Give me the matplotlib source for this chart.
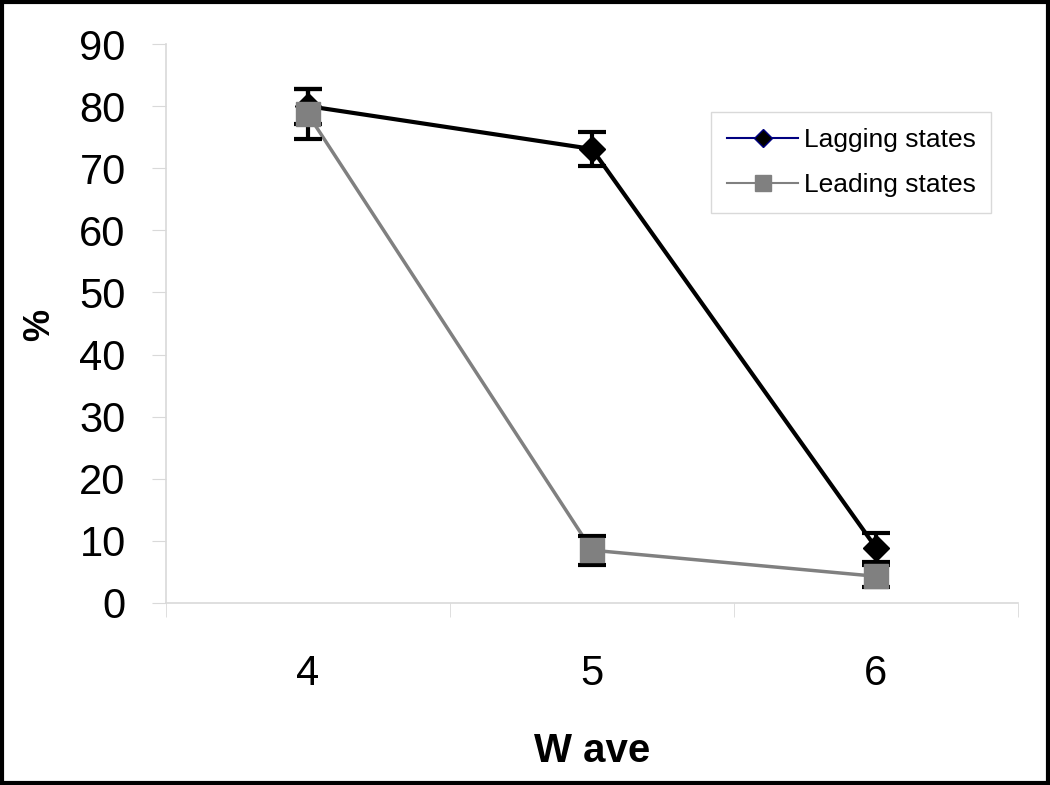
import matplotlib
matplotlib.use('Agg')
import matplotlib.pyplot as plt
from matplotlib.patches import Rectangle

# data
waves = [4, 5, 6]
lagging = [80.0, 73.1, 8.9]
lagging_err = [2.8, 2.8, 2.3]
leading = [78.7, 8.5, 4.3]
leading_err = [4.0, 2.35, 1.8]
yticks = [0, 10, 20, 30, 40, 50, 60, 70, 80, 90]

plt.rcParams['font.family'] = ['Liberation Sans', 'DejaVu Sans']

fig = plt.figure(figsize=(10.5, 7.85), dpi=100)
ax = fig.add_axes([166/1050, 1-603/785, (1018-166)/1050, (603-44)/785])

# lines first, error bars and markers on top
ax.plot(waves, leading, color='#808080', lw=2.5, zorder=2)
ax.plot(waves, lagging, color='black', lw=3, zorder=3)
ax.errorbar(waves, lagging, yerr=lagging_err, fmt='none', ecolor='black',
            elinewidth=3, capsize=10, capthick=3, zorder=4)
ax.errorbar(waves, leading, yerr=leading_err, fmt='none', ecolor='black',
            elinewidth=3, capsize=10, capthick=3, zorder=4)
ax.plot(waves, lagging, ls='none', marker='D', ms=13, color='black', zorder=5)
ax.plot(waves, leading, ls='none', marker='s', ms=17, color='#808080', zorder=6)

# legend handles
h1, = ax.plot([], [], color='#000080', lw=1.5, marker='D', ms=9,
              mfc='black', mec='#000080', label='Lagging states')
h2, = ax.plot([], [], color='#808080', lw=1.5, marker='s', ms=11,
              mfc='#808080', mec='#808080', label='Leading states')
leg = ax.legend(handles=[h1, h2], loc='upper left', bbox_to_anchor=(0.64, 0.878),
                frameon=True, fancybox=False, fontsize=19, handlelength=2.7,
                handletextpad=0.2, borderpad=0.6, labelspacing=0.8,
                borderaxespad=0)
leg.get_frame().set_edgecolor('#d0d0d0')
leg.get_frame().set_linewidth(1)

ax.set_xlim(3.5, 6.5)
ax.set_ylim(0, 90)
ax.set_yticks(yticks)
ax.set_xticks(waves)
ax.set_xticks([3.5, 4.5, 5.5, 6.5], minor=True)
ax.tick_params(axis='x', which='major', length=0, pad=37, labelsize=30)
ax.tick_params(axis='x', which='minor', length=10, color='#d9d9d9', direction='out')
ax.tick_params(axis='y', length=10, color='#d9d9d9', direction='out', pad=19, labelsize=30)

for s in ['top', 'right']:
    ax.spines[s].set_visible(False)
for s in ['left', 'bottom']:
    ax.spines[s].set_color('#d9d9d9')
    ax.spines[s].set_linewidth(1.2)

fig.text(40/1050, 1-325/785, '%', rotation=90, fontsize=26, fontweight='bold',
         ha='center', va='center')
fig.text(592/1050, 1-751/785, 'W ave', fontsize=29, fontweight='bold',
         ha='center', va='center')

# outer frame
fig.patches.append(Rectangle((0.0015, 0.003), 0.997, 0.995, transform=fig.transFigure,
                             fill=False, edgecolor='black', lw=3))

fig.savefig('out.png', dpi=100)
